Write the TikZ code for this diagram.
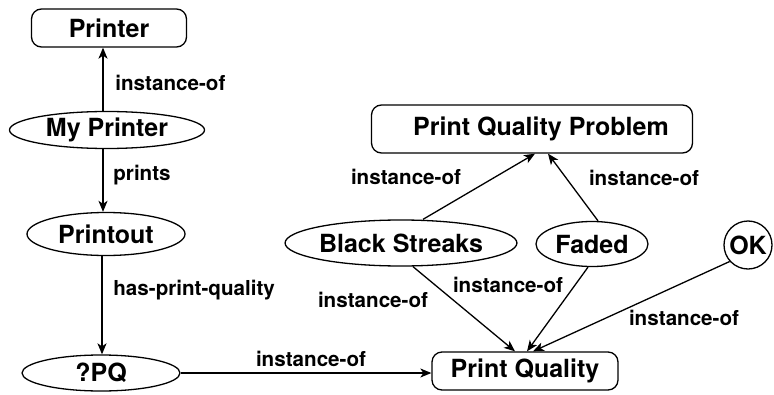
\documentclass[tikz,border=0pt]{standalone}
\usepackage{fontspec}
\setmainfont{TeX Gyre Heros}
\usetikzlibrary{shapes.geometric,arrows.meta}
\tikzset{
  box/.style={draw, rounded corners=5pt, line width=0.65pt, inner sep=0pt, font=\fontsize{12.5}{14}\selectfont\bfseries},
  oval/.style={draw, ellipse, line width=0.65pt, inner sep=0pt, font=\fontsize{12.5}{14}\selectfont\bfseries},
  lbl/.style={inner sep=0pt, font=\fontsize{10.3}{12}\selectfont\bfseries},
  rel/.style={line width=0.65pt, -{Stealth[length=5.5pt,width=4.5pt,inset=1.5pt]}}
}
\begin{document}
\begin{tikzpicture}[x=0.5pt,y=-0.5pt]
\useasboundingbox (0,0) rectangle (774,395);
% nodes
\node[box, minimum width=77.5pt, minimum height=19pt] (printer) at (109,28) {Printer};
\node[oval, minimum width=97.5pt, minimum height=18.5pt] (myprinter) at (107,130) {My Printer};
\node[oval, minimum width=79pt, minimum height=21.5pt] (printout) at (106,234) {Printout};
\node[oval, minimum width=79pt, minimum height=18pt] (qpq) at (101,373) {?PQ};
\node[box, minimum width=160.5pt, minimum height=24pt] (pqp) at (532,129) {\hspace*{9pt}Print Quality Problem};
\node[oval, minimum width=114pt, minimum height=23pt] (bs) at (401,243) {Black Streaks};
\node[oval, minimum width=56pt, minimum height=22.5pt] (faded) at (592,244) {Faded};
\node[draw, circle, line width=0.65pt, inner sep=0pt, minimum size=24pt, font=\fontsize{12.5}{14}\selectfont\bfseries] (ok) at (748,245) {OK};
\node[box, minimum width=93pt, minimum height=19pt] (pq) at (525,371) {Print Quality};
% labels
\node[lbl, anchor=west] (l1) at (115,83) {instance-of};
\node[lbl, anchor=west] (l2) at (113,175) {prints};
\node[lbl, anchor=west] (l3) at (113,290) {has-print-quality};
\node[lbl] (l4) at (311,359) {instance-of};
\node[lbl] (l5) at (406,177) {instance-of};
\node[lbl] (l6) at (644,178) {instance-of};
\node[lbl] (l7) at (508,285) {instance-of};
\node[lbl] (l8) at (373,300) {instance-of};
\node[lbl] (l9) at (684,318) {instance-of};
% connectors
\coordinate (v1) at ([xshift=-2pt]myprinter.north);
\draw[rel] (v1) -- (v1 |- printer.south);
\coordinate (v2) at ([xshift=-2pt]myprinter.south);
\draw[rel] (v2) -- (v2 |- printout.north);
\coordinate (v3) at ([xshift=-2pt]printout.south);
\draw[rel] (v3) -- (v3 |- qpq.north);
\draw[rel] (qpq.east) -- (qpq.east -| pq.west);
\draw[rel] ([xshift=11pt]bs.north) -- ([xshift=1.5pt]pqp.south);
\draw[rel] ([xshift=3pt]faded.north) -- ([xshift=8pt]pqp.south);
\draw[rel] ([xshift=6pt]bs.south) -- ([xshift=-5pt]pq.north);
\draw[rel] ([xshift=-2pt]faded.south) -- ([xshift=1pt]pq.north);
\draw[rel] (ok.222) -- ([xshift=4pt]pq.north);
\end{tikzpicture}
\end{document}
